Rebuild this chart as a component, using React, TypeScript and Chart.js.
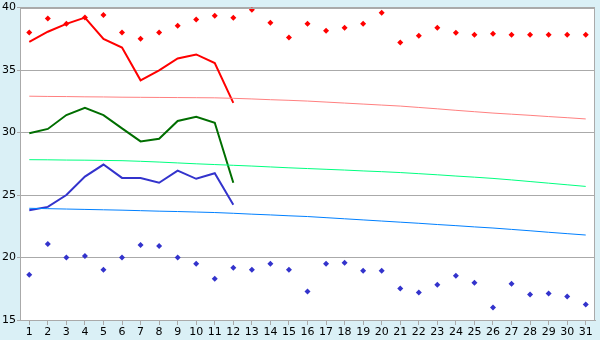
import React, { useEffect, useRef } from "react";
import { Chart, registerables } from "chart.js";

Chart.register(...registerables);

const dayLabels = ["1","2","3","4","5","6","7","8","9","10","11","12","13","14","15","16","17","18","19","20","21","22","23","24","25","26","27","28","29","30","31"];

const maxLine = [37.25, 38.07, 38.7, 39.2, 37.49, 36.8, 34.18, 34.98, 35.93, 36.25, 35.56, 32.38];
const meanLine = [29.94, 30.29, 31.4, 31.98, 31.4, 30.34, 29.29, 29.5, 30.93, 31.27, 30.79, 25.98];
const minLine = [23.79, 24.05, 25.0, 26.48, 27.44, 26.37, 26.37, 25.98, 26.96, 26.3, 26.75, 24.23];

const recordHigh = [38.0, 39.13, 38.7, 39.2, 39.4, 38.0, 37.5, 38.0, 38.55, 39.05, 39.34, 39.18, 39.82, 38.78, 37.6, 38.7, 38.15, 38.39, 38.7, 39.58, 37.2, 37.75, 38.39, 37.99, 37.83, 37.91, 37.83, 37.83, 37.83, 37.83, 37.83];
const recordLow = [18.63, 21.09, 20.0, 20.13, 19.02, 20.0, 21.0, 20.93, 20.0, 19.5, 18.31, 19.18, 19.02, 19.5, 19.02, 17.28, 19.5, 19.58, 18.94, 18.94, 17.52, 17.2, 17.83, 18.55, 17.99, 16.01, 17.91, 17.04, 17.12, 16.88, 16.25];

const normalMax = [32.91, 32.89, 32.88, 32.86, 32.85, 32.83, 32.82, 32.81, 32.8, 32.79, 32.78, 32.74, 32.69, 32.63, 32.58, 32.52, 32.44, 32.36, 32.28, 32.2, 32.12, 32.01, 31.9, 31.78, 31.67, 31.56, 31.47, 31.38, 31.28, 31.19, 31.09];
const normalMean = [27.83, 27.82, 27.8, 27.79, 27.77, 27.75, 27.7, 27.64, 27.57, 27.5, 27.44, 27.38, 27.32, 27.25, 27.18, 27.12, 27.06, 27.0, 26.93, 26.87, 26.8, 26.71, 26.62, 26.52, 26.43, 26.33, 26.21, 26.08, 25.95, 25.82, 25.69];
const normalMin = [23.94, 23.91, 23.88, 23.85, 23.82, 23.79, 23.75, 23.71, 23.68, 23.64, 23.6, 23.54, 23.47, 23.41, 23.34, 23.28, 23.19, 23.1, 23.01, 22.92, 22.83, 22.74, 22.64, 22.55, 22.45, 22.36, 22.25, 22.14, 22.02, 21.91, 21.8];

const yMin = 15;
const yMax = 40;
const yStep = 5;

const bgPlugin = {
  id: "bgPlugin",
  beforeDraw(chart: any) {
    const { ctx, chartArea } = chart;
    ctx.save();
    ctx.fillStyle = "#daf0f6";
    ctx.fillRect(0, 0, chart.width, chart.height);
    ctx.fillStyle = "#ffffff";
    ctx.fillRect(chartArea.left, chartArea.top, chartArea.right - chartArea.left, chartArea.bottom - chartArea.top);
    ctx.restore();
  },
  afterDraw(chart: any) {
    const { ctx, chartArea } = chart;
    ctx.save();
    ctx.strokeStyle = "#aaaaaa";
    ctx.lineWidth = 1;
    ctx.strokeRect(Math.round(chartArea.left) + 0.5, Math.round(chartArea.top) + 0.5, Math.round(chartArea.right - chartArea.left) - 1, Math.round(chartArea.bottom - chartArea.top));
    ctx.restore();
  },
};

export default function App() {
  const ref = useRef<HTMLCanvasElement>(null);
  useEffect(() => {
    document.body.style.margin = "0";
    const font = { family: "'DejaVu Sans', Verdana, sans-serif", size: 11 };
    const chart = new Chart(ref.current as HTMLCanvasElement, {
      type: "line",
      data: {
        labels: dayLabels,
        datasets: [
          { data: normalMax, borderColor: "#ff8080", borderWidth: 1, pointRadius: 0, tension: 0 },
          { data: normalMean, borderColor: "#00ff80", borderWidth: 1, pointRadius: 0, tension: 0 },
          { data: normalMin, borderColor: "#0080ff", borderWidth: 1, pointRadius: 0, tension: 0 },
          { data: maxLine, borderColor: "#ff0000", borderWidth: 2, pointRadius: 0, tension: 0 },
          { data: meanLine, borderColor: "#006e00", borderWidth: 2, pointRadius: 0, tension: 0 },
          { data: minLine, borderColor: "#3333cc", borderWidth: 2, pointRadius: 0, tension: 0 },
          { data: recordHigh, showLine: false, pointStyle: "rectRot", pointRadius: 3, pointBorderWidth: 0, pointBackgroundColor: "#ff0000", borderColor: "#ff0000" },
          { data: recordLow, showLine: false, pointStyle: "rectRot", pointRadius: 3, pointBorderWidth: 0, pointBackgroundColor: "#3333cc", borderColor: "#3333cc" },
        ],
      },
      options: {
        responsive: false,
        animation: false,
        layout: { padding: { top: 5, right: 5, left: 0, bottom: 0 } },
        plugins: { legend: { display: false }, tooltip: { enabled: false } },
        scales: {
          x: {
            offset: true,
            grid: { drawOnChartArea: false, drawTicks: true, tickLength: 5, color: "#aaaaaa", offset: false },
            border: { color: "#aaaaaa" },
            ticks: { color: "#000", font, padding: 1, maxRotation: 0, autoSkip: false },
            afterFit: (s: any) => { s.height = 20; },
          },
          y: {
            min: yMin,
            max: yMax,
            grid: { color: "#aaaaaa", tickLength: 3 },
            border: { color: "#aaaaaa" },
            ticks: { stepSize: yStep, color: "#000", font, padding: 1 },
            afterFit: (s: any) => { s.width = 20; },
          },
        },
      },
      plugins: [bgPlugin],
    } as any);
    return () => chart.destroy();
  }, []);
  return <canvas ref={ref} width={600} height={340} style={{ display: "block" }} />;
}
